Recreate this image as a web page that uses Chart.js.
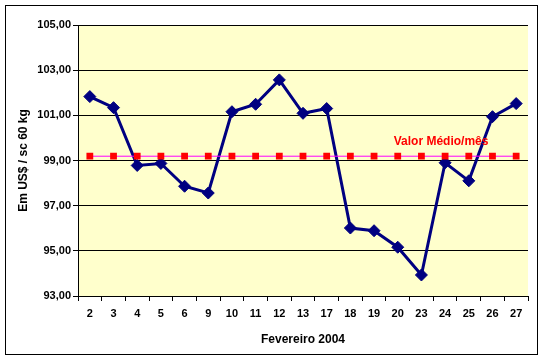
<!DOCTYPE html>
<html>
<head>
<meta charset="utf-8">
<script src="https://cdn.jsdelivr.net/npm/chart.js@4.4.0/dist/chart.umd.min.js"></script>
<style>
  html, body { margin: 0; padding: 0; background: #fff; }
  #wrap { width: 544px; height: 361px; }
</style>
</head>
<body>
<div id="wrap"><canvas id="myChart" width="544" height="361"></canvas></div>
<script>
  /* Data
  -----------------------------------------------*/
  const dias = ['2', '3', '4', '5', '6', '9', '10', '11', '12', '13', '17', '18', '19', '20', '23', '24', '25', '26', '27'];
  const precos = [101.83, 101.34, 98.78, 98.87, 97.86, 97.56, 101.16, 101.49, 102.57, 101.09,
                  101.30, 96.01, 95.89, 95.16, 93.93, 98.90, 98.10, 100.94, 101.52];
  const media = [99.19, 99.19, 99.19, 99.19, 99.19, 99.19, 99.19, 99.19, 99.19, 99.19,
                 99.19, 99.19, 99.19, 99.19, 99.19, 99.19, 99.19, 99.19, 99.19];
  const yTicks = [93, 95, 97, 99, 101, 103, 105];

  /* Background + frame + label
  -----------------------------------------------*/
  const fundo = {
    id: 'fundo',
    beforeDraw(chart) {
      const ctx = chart.ctx, a = chart.chartArea;
      ctx.save();
      ctx.fillStyle = '#fff';
      ctx.fillRect(0, 0, chart.width, chart.height);
      ctx.strokeStyle = '#000';
      ctx.lineWidth = 1;
      ctx.strokeRect(5.5, 5.5, 532, 349);
      ctx.fillStyle = '#FFFFCC';
      ctx.fillRect(a.left, a.top, a.right - a.left, a.bottom - a.top);
      ctx.restore();
    },
    afterDatasetsDraw(chart) {
      const ctx = chart.ctx;
      const x = chart.scales.x.getPixelForValue(15) - 4;
      const y = chart.scales.y.getPixelForValue(99.85);
      ctx.save();
      ctx.fillStyle = '#FF0000';
      ctx.font = 'bold 12px "Liberation Sans", Arial, sans-serif';
      ctx.textAlign = 'center';
      ctx.textBaseline = 'middle';
      ctx.fillText('Valor Médio/mês', x, y);
      ctx.restore();
    }
  };

  const fonte = { family: '"Liberation Sans", Arial, sans-serif', size: 11, weight: 'bold' };

  let ctx = document.getElementById('myChart').getContext('2d');
  let myChart = new Chart(ctx, {
    type: 'line',
    data: {
      labels: dias,
      datasets: [{
        label: 'Valor Médio/mês',
        data: media,
        borderColor: '#FF00FF',
        borderWidth: 1,
        pointStyle: 'rect',
        pointRadius: 4.8,
        pointBackgroundColor: '#FF0000',
        pointBorderColor: '#FF0000',
        pointBorderWidth: 0
      }, {
        label: 'Preço',
        data: precos,
        borderColor: '#000080',
        borderWidth: 3,
        pointStyle: 'rectRot',
        pointRadius: 6,
        pointBackgroundColor: '#000080',
        pointBorderColor: '#000080',
        pointBorderWidth: 1
      }]
    },
    options: {
      responsive: false,
      animation: false,
      layout: { padding: { left: 10, top: 25, right: 16, bottom: 10 } },
      plugins: { legend: { display: false }, tooltip: { enabled: false } },
      scales: {
        x: {
          offset: true,
          afterFit(s) { s.height = 55; },
          grid: { offset: true, drawOnChartArea: false, drawTicks: true, tickLength: 5, color: '#000', lineWidth: 1 },
          border: { color: '#000', width: 1 },
          ticks: { color: '#000', font: fonte, padding: 6, maxRotation: 0, autoSkip: false },
          title: { display: true, text: 'Fevereiro 2004', color: '#000', font: { family: fonte.family, size: 12, weight: 'bold' }, padding: { top: 4 } }
        },
        y: {
          min: 93,
          max: 105,
          afterFit(s) { s.width = 68; },
          afterBuildTicks(s) { s.ticks = yTicks.map(v => ({ value: v })); },
          grid: { color: '#000', lineWidth: 1, tickLength: 5 },
          border: { color: '#000', width: 1 },
          ticks: {
            color: '#000',
            font: fonte,
            padding: 2,
            callback: v => v.toFixed(2).replace('.', ',')
          },
          title: { display: true, text: 'Em US$ / sc 60 kg', color: '#000', font: { family: fonte.family, size: 12, weight: 'bold' }, padding: { top: 6 } }
        }
      }
    },
    plugins: [fundo]
  });
</script>
</body>
</html>
